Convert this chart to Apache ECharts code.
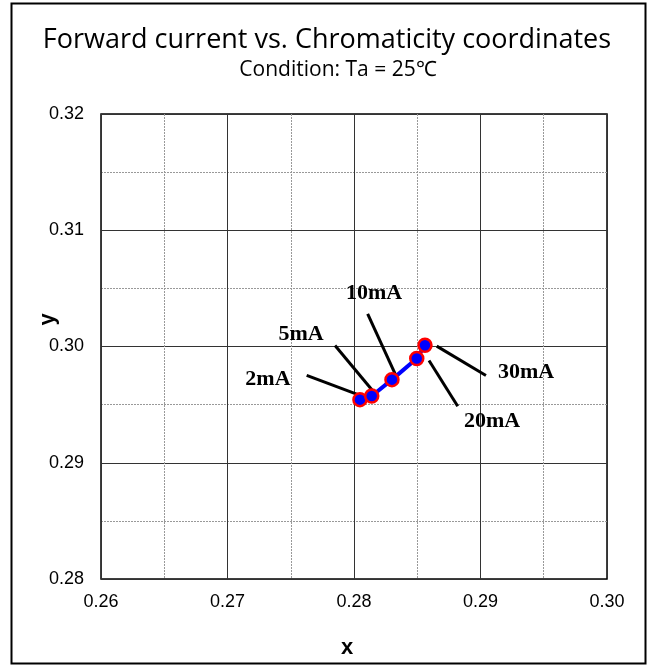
<!DOCTYPE html>
<html><head><meta charset="utf-8">
<script src="https://cdn.jsdelivr.net/npm/echarts@6/dist/echarts.min.js"></script>
<style>html,body{margin:0;padding:0;background:#fff}#c{width:653px;height:666px}</style>
</head><body><div id="c"></div>
<script>
// Data
var currents = ['2mA', '5mA', '10mA', '20mA', '30mA'];
var xValues = [0.28047, 0.28140, 0.28300, 0.28496, 0.28561];
var yValues = [0.29543, 0.29574, 0.29715, 0.29897, 0.30011];
// annotation label anchors (data space) and leader line ends
var labelX = [0.27320, 0.27581, 0.28158, 0.29091, 0.29360];
var labelY = [0.29722, 0.30109, 0.30460, 0.29353, 0.29775];
var leadStartX = [0.27626, 0.27850, 0.28108, 0.28593, 0.28654];
var leadStartY = [0.29752, 0.30009, 0.30280, 0.29880, 0.30003];
var leadEndX = [0.28100, 0.28166, 0.28337, 0.28820, 0.29043];
var leadEndY = [0.29558, 0.29595, 0.29737, 0.29486, 0.29751];
var xTicks = [0.26, 0.27, 0.28, 0.29, 0.30];
var yTicks = [0.28, 0.29, 0.30, 0.31, 0.32];

var chart = echarts.init(document.getElementById('c'), null, {renderer: 'canvas'});
var series = [];
for (var i = 0; i < currents.length; i++) {
  series.push({
    type: 'line', silent: true, symbol: 'none', z: 3,
    lineStyle: {color: '#000', width: 3},
    data: [[leadStartX[i], leadStartY[i]], [leadEndX[i], leadEndY[i]]]
  });
}
series.push({
  type: 'line', z: 5,
  symbol: 'circle', symbolSize: 13,
  lineStyle: {color: '#0000ff', width: 4},
  itemStyle: {color: '#0000ff', borderColor: '#ff0000', borderWidth: 2.5},
  data: xValues.map(function (v, i) { return [v, yValues[i]]; })
});
series.push({
  type: 'scatter', z: 6, symbolSize: 0, silent: true,
  itemStyle: {color: '#000'},
  label: {show: true, position: 'inside', formatter: function (p) { return currents[p.dataIndex]; },
    fontFamily: 'Liberation Serif', fontWeight: 'bold', fontSize: 22, color: '#000',
    textBorderWidth: 0, textBorderColor: 'transparent', opacity: 1},
  data: labelX.map(function (v, i) { return [v, labelY[i]]; })
});

chart.setOption({
  animation: false,
  backgroundColor: '#fff',
  title: [{
    text: 'Forward current vs. Chromaticity coordinates',
    left: 322, textAlign: 'center', top: 22,
    textStyle: {fontFamily: 'Open Sans', fontWeight: 'normal', fontSize: 27, color: '#000'}
  }, {
    text: 'Condition: Ta = 25\u2103',
    left: 333, textAlign: 'center', top: 55,
    textStyle: {fontFamily: 'Open Sans', fontWeight: 'normal', fontSize: 21, color: '#000'}
  }],
  graphic: [{
    type: 'rect', shape: {x: 11.5, y: 3.5, width: 634, height: 660}, silent: true,
    style: {fill: 'none', stroke: '#000', lineWidth: 2}
  }],
  grid: {left: 101, right: 46, top: 114, bottom: 87, show: true, borderColor: '#000', borderWidth: 1.5, backgroundColor: 'transparent'},
  xAxis: {
    type: 'value', min: xTicks[0], max: xTicks[xTicks.length - 1], interval: 0.01,
    name: 'x', nameLocation: 'middle', nameGap: 58, nameMoveOverlap: false,
    nameTextStyle: {fontFamily: 'Liberation Sans', fontWeight: 'bold', fontSize: 22, color: '#000', padding: [0, 14, 0, 0]},
    axisLine: {show: false}, axisTick: {show: false},
    axisLabel: {fontFamily: 'Liberation Sans', fontSize: 18, color: '#000', margin: 14,
      formatter: function (v) { return v.toFixed(2); }},
    splitLine: {show: true, lineStyle: {color: '#333', width: 1}},
    minorTick: {show: false, splitNumber: 2},
    minorSplitLine: {show: true, lineStyle: {color: '#999', width: 1, type: [2, 1]}}
  },
  yAxis: {
    type: 'value', min: yTicks[0], max: yTicks[yTicks.length - 1], interval: 0.01,
    name: 'y', nameLocation: 'middle', nameGap: 42, nameRotate: 90, nameMoveOverlap: false,
    nameTextStyle: {fontFamily: 'Liberation Sans', fontWeight: 'bold', fontSize: 22, color: '#000', padding: [0, 0, 0, 54]},
    axisLine: {show: false}, axisTick: {show: false},
    axisLabel: {fontFamily: 'Liberation Sans', fontSize: 18, color: '#000', margin: 17,
      formatter: function (v) { return v.toFixed(2); }},
    splitLine: {show: true, lineStyle: {color: '#333', width: 1}},
    minorTick: {show: false, splitNumber: 2},
    minorSplitLine: {show: true, lineStyle: {color: '#999', width: 1, type: [2, 1]}}
  },
  series: series
});
</script></body></html>
